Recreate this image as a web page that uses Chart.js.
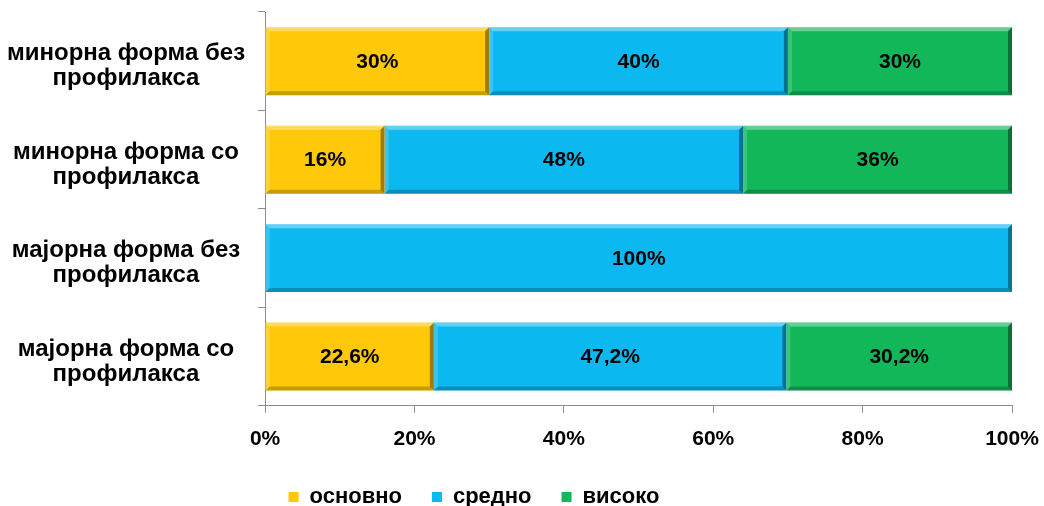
<!DOCTYPE html>
<html>
<head>
<meta charset="utf-8">
<script src="https://cdn.jsdelivr.net/npm/chart.js@4/dist/chart.umd.min.js"></script>
<style>
  html, body { margin: 0; padding: 0; background: #fff; }
  #wrap { width: 1044px; height: 506px; position: relative; }
</style>
</head>
<body>
<div id="wrap"><canvas id="chart"></canvas></div>
<script>
// categories (two-line labels) and series values in percent
const categories = [
  ["минорна форма без", "профилакса"],
  ["минорна форма со", "профилакса"],
  ["мајорна форма без", "профилакса"],
  ["мајорна форма со", "профилакса"]
];
const seriesNames = ["основно", "средно", "високо"];
const osnovno = [30, 16, 0, 22.6];
const sredno = [40, 48, 100, 47.2];
const visoko = [30, 36, 0, 30.2];
const xTicks = [0, 20, 40, 60, 80, 100];

const colors = ["#FFC90A", "#0BB8F0", "#12B75A"];
const FONT = "'Liberation Sans', Arial, sans-serif";

function fmt(v) {
  return String(v).replace(".", ",") + "%";
}

// bevel look on each bar segment
const bevelPlugin = {
  id: "bevel",
  afterDatasetsDraw(chart) {
    const ctx = chart.ctx;
    chart.data.datasets.forEach((ds, i) => {
      const meta = chart.getDatasetMeta(i);
      meta.data.forEach((bar, j) => {
        if (!ds.data[j]) return;
        const l = Math.min(bar.base, bar.x);
        const r = Math.max(bar.base, bar.x);
        const t = bar.y - bar.height / 2;
        const b = bar.y + bar.height / 2;
        const d = 4;
        ctx.save();
        // top
        ctx.fillStyle = "rgba(255,255,255,0.35)";
        ctx.beginPath();
        ctx.moveTo(l, t); ctx.lineTo(r, t); ctx.lineTo(r - d, t + d); ctx.lineTo(l + d, t + d);
        ctx.closePath(); ctx.fill();
        // left
        ctx.fillStyle = "rgba(255,255,255,0.18)";
        ctx.beginPath();
        ctx.moveTo(l, t); ctx.lineTo(l + d, t + d); ctx.lineTo(l + d, b - d); ctx.lineTo(l, b);
        ctx.closePath(); ctx.fill();
        // bottom
        ctx.fillStyle = "rgba(0,0,0,0.22)";
        ctx.beginPath();
        ctx.moveTo(l, b); ctx.lineTo(l + d, b - d); ctx.lineTo(r - d, b - d); ctx.lineTo(r, b);
        ctx.closePath(); ctx.fill();
        // right
        ctx.fillStyle = "rgba(0,0,0,0.38)";
        ctx.beginPath();
        ctx.moveTo(r, t); ctx.lineTo(r, b); ctx.lineTo(r - d, b - d); ctx.lineTo(r - d, t + d);
        ctx.closePath(); ctx.fill();
        ctx.restore();
      });
    });
  }
};

// value labels in the middle of each segment
const valueLabels = {
  id: "valueLabels",
  afterDatasetsDraw(chart) {
    const ctx = chart.ctx;
    ctx.save();
    ctx.font = "bold 21px " + FONT;
    ctx.fillStyle = "#000";
    ctx.textAlign = "center";
    ctx.textBaseline = "middle";
    chart.data.datasets.forEach((ds, i) => {
      chart.getDatasetMeta(i).data.forEach((bar, j) => {
        const v = ds.data[j];
        if (!v) return;
        const p = bar.getCenterPoint();
        ctx.fillText(fmt(v), p.x, p.y + 1);
      });
    });
    ctx.restore();
  }
};

// legend sits left of the canvas centre in the original
const legendShift = {
  id: "legendShift",
  afterLayout(chart) {
    chart.legend.left -= 29;
    chart.legend.right -= 29;
  }
};

new Chart(document.getElementById("chart"), {
  type: "bar",
  data: {
    labels: categories,
    datasets: [
      { label: seriesNames[0], data: osnovno, backgroundColor: colors[0] },
      { label: seriesNames[1], data: sredno, backgroundColor: colors[1] },
      { label: seriesNames[2], data: visoko, backgroundColor: colors[2] }
    ]
  },
  options: {
    indexAxis: "y",
    responsive: true,
    maintainAspectRatio: false,
    animation: false,
    layout: { padding: { top: 12, right: 32, left: -6, bottom: -12 } },
    datasets: {
      bar: { categoryPercentage: 1, barPercentage: 0.69, borderWidth: 0 }
    },
    scales: {
      x: {
        stacked: true,
        min: 0,
        max: 100,
        afterBuildTicks(scale) {
          scale.ticks = xTicks.map((v) => ({ value: v }));
        },
        afterFit(scale) {
          scale.paddingLeft = 0;
          scale.paddingRight = 0;
          scale.height -= 10;
        },
        border: { color: "#8c8c8c", width: 1 },
        grid: { drawOnChartArea: false, tickLength: 7, color: "#8c8c8c" },
        ticks: {
          color: "#000",
          font: { family: FONT, size: 21, weight: "bold" },
          padding: 14,
          maxRotation: 0,
          callback: (v) => v + "%"
        }
      },
      y: {
        stacked: true,
        afterFit(scale) {
          scale.paddingTop = 0;
          scale.paddingBottom = 0;
        },
        border: { color: "#8c8c8c", width: 1 },
        grid: { offset: true, drawOnChartArea: false, tickLength: 7, color: "#8c8c8c" },
        ticks: {
          color: "#000",
          crossAlign: "center",
          padding: 13,
          labelOffset: 5,
          font: { family: FONT, size: 24, weight: "bold", lineHeight: 1.05 }
        }
      }
    },
    plugins: {
      tooltip: { enabled: false },
      legend: {
        position: "bottom",
        labels: {
          color: "#000",
          boxWidth: 10,
          boxHeight: 10,
          padding: 30,
          font: { family: FONT, size: 22, weight: "bold" }
        }
      }
    }
  },
  plugins: [bevelPlugin, valueLabels, legendShift]
});
</script>
</body>
</html>
